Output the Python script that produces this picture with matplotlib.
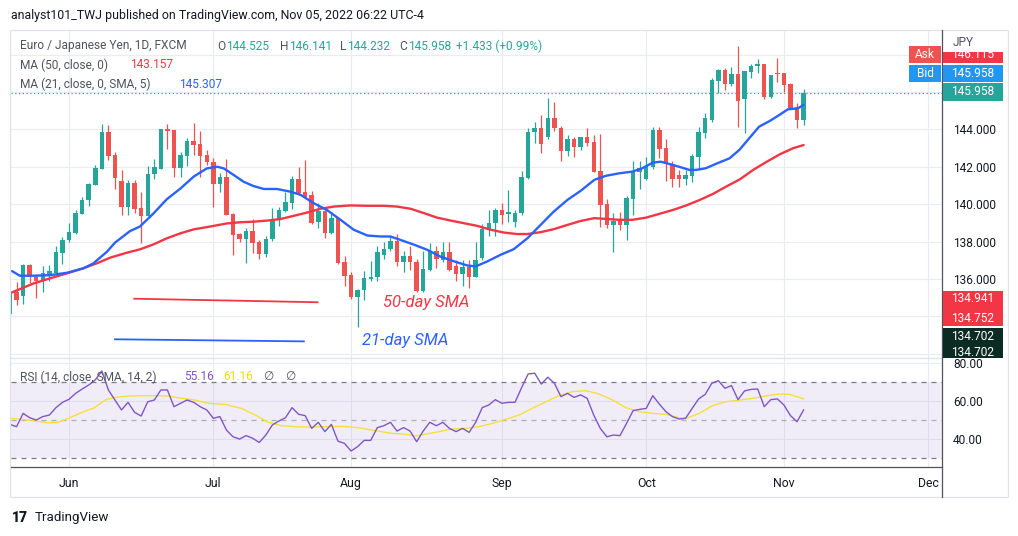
import numpy as np
import pandas as pd
import matplotlib
matplotlib.use("Agg")
import matplotlib.pyplot as plt
from matplotlib.patches import Rectangle
from matplotlib.lines import Line2D

plt.rcParams["font.family"] = ["Roboto", "DejaVu Sans"]

# ==== DATA ====
opens = [134.10, 135.28, 135.10, 136.76, 136.08, 135.87, 136.28, 136.31, 137.40, 138.06,
         138.45, 139.48, 140.20, 141.03, 141.90, 143.86, 142.63, 141.24, 139.87, 141.15,
         139.80, 139.37, 141.62, 141.90, 144.00, 143.96, 141.95, 142.60, 143.38, 143.20,
         142.63, 142.24, 141.06, 141.43, 139.45, 138.40, 138.12, 138.56, 137.99, 137.32,
         138.12, 139.19, 139.65, 140.08, 141.34, 140.63, 140.50, 139.06, 139.63, 138.44,
         139.28, 136.89, 136.22, 135.01, 135.40, 136.00, 136.08, 137.29, 137.60, 138.04,
         136.88, 137.24, 136.90, 135.37, 136.49, 137.50, 137.03, 137.43, 136.70, 136.28,
         136.63, 136.12, 137.14, 138.62, 138.97, 139.69, 139.47, 139.05, 139.50, 141.41,
         143.84, 144.05, 143.61, 144.59, 144.09, 142.86, 143.46, 143.07, 143.57, 143.30,
         141.77, 140.00, 138.86, 139.16, 138.89, 140.28, 141.74, 141.35, 142.01, 143.96,
         143.02, 142.15, 141.56, 141.35, 141.51, 142.54, 143.82, 144.50, 146.60, 147.17,
         146.42, 146.95, 145.62, 147.08, 147.38, 147.52, 145.71, 147.04, 146.99, 146.40,
         145.21, 144.525]
highs = [135.35, 135.83, 136.80, 136.80, 136.28, 136.70, 136.76, 137.74, 138.23, 138.98,
         139.70, 140.37, 141.15, 142.10, 144.28, 144.23, 142.80, 141.83, 141.30, 141.30,
         140.67, 142.04, 142.42, 144.02, 144.28, 143.96, 142.80, 143.52, 144.36, 143.93,
         142.90, 142.45, 141.65, 142.40, 139.50, 138.45, 138.74, 139.20, 138.08, 138.30,
         139.81, 139.83, 140.67, 141.50, 142.00, 142.36, 140.72, 140.04, 139.70, 139.54,
         139.28, 137.20, 136.35, 135.45, 136.44, 136.94, 137.74, 137.95, 138.32, 138.41,
         137.47, 137.74, 137.06, 137.47, 137.90, 137.74, 137.97, 137.97, 137.00, 137.00,
         136.99, 137.97, 138.93, 139.70, 139.78, 140.04, 140.76, 139.68, 141.79, 144.05,
         144.37, 144.77, 145.66, 145.48, 144.20, 143.70, 143.60, 143.61, 144.05, 143.70,
         143.75, 140.27, 139.52, 139.57, 140.44, 142.33, 142.33, 142.50, 144.10, 144.10,
         143.48, 142.33, 141.83, 141.83, 142.67, 144.14, 144.89, 146.72, 147.22, 147.26,
         147.35, 148.45, 147.11, 147.49, 147.74, 147.52, 146.90, 147.79, 146.99, 146.49,
         145.39, 146.141]
lows = [134.05, 134.62, 134.66, 135.78, 135.00, 135.28, 135.90, 136.30, 136.80, 138.00,
        138.40, 139.45, 139.90, 141.00, 141.90, 142.36, 140.80, 139.43, 139.40, 139.50,
        137.90, 139.37, 141.35, 141.86, 142.93, 141.47, 141.44, 142.06, 142.63, 141.47,
        142.10, 139.85, 140.67, 139.40, 137.30, 138.00, 136.87, 137.37, 137.05, 137.16,
        138.05, 138.83, 139.60, 139.74, 140.50, 140.40, 138.94, 138.74, 138.17, 138.40,
        136.80, 135.60, 134.95, 133.43, 134.85, 135.87, 135.87, 137.08, 137.50, 136.67,
        136.35, 136.50, 135.30, 135.30, 136.40, 136.60, 136.90, 136.44, 135.90, 135.60,
        135.50, 136.10, 137.00, 138.32, 138.30, 138.93, 139.02, 138.75, 139.40, 141.34,
        143.25, 142.71, 143.46, 143.90, 142.32, 142.59, 142.54, 142.90, 143.10, 141.70,
        138.75, 138.70, 137.43, 138.63, 138.09, 139.43, 140.81, 141.30, 141.90, 142.45,
        141.26, 140.94, 140.94, 141.03, 141.20, 141.83, 143.56, 144.41, 145.92, 146.10,
        146.31, 144.14, 143.79, 146.72, 147.02, 145.62, 145.65, 146.55, 146.01, 145.12,
        144.09, 144.232]
closes = [135.30, 134.89, 136.76, 136.08, 135.87, 136.31, 136.44, 137.43, 138.10, 138.50,
          139.55, 140.23, 141.08, 141.92, 143.86, 142.60, 141.38, 139.87, 141.15, 139.75,
          139.37, 141.62, 142.00, 144.00, 143.93, 141.95, 142.63, 143.38, 143.18, 142.60,
          142.24, 141.08, 141.43, 139.42, 138.35, 138.12, 138.56, 137.94, 137.32, 138.14,
          139.19, 139.69, 140.10, 141.34, 140.60, 140.40, 138.97, 139.63, 138.44, 139.28,
          136.87, 136.16, 135.01, 135.42, 136.05, 136.10, 137.43, 137.60, 138.04, 136.88,
          137.24, 136.88, 135.37, 136.54, 137.50, 137.06, 137.43, 136.49, 136.28, 136.63,
          136.12, 137.02, 138.67, 138.97, 139.70, 139.42, 139.56, 139.54, 141.43, 143.84,
          144.05, 143.20, 144.59, 144.09, 142.86, 143.46, 143.07, 143.57, 143.29, 141.73,
          139.95, 138.86, 139.11, 138.89, 140.35, 141.79, 141.95, 142.04, 143.96, 142.95,
          142.13, 141.35, 141.35, 141.56, 142.58, 143.88, 144.59, 146.63, 147.17, 146.42,
          146.95, 145.53, 147.11, 147.38, 147.52, 145.71, 146.90, 146.95, 146.37, 145.12,
          144.50, 145.958]

# moving averages, sampled along the curve (bar number, value)
ma21_bar = [0.3, 1.5, 3.6, 6.1, 8.7, 11.2, 12.7, 14.8, 16.0, 18.3, 19.8, 21.9, 23.9, 26.0,
            28.0, 30.0, 31.6, 32.6, 34.1, 35.6, 37.1, 38.7, 40.7, 42.7, 44.3, 46.3, 48.3,
            50.4, 52.4, 54.5, 56.5, 58.0, 59.5, 61.6, 63.6, 65.6, 67.7, 69.7, 71.0, 72.8,
            74.8, 76.8, 78.9, 80.9, 82.9, 85.0, 87.0, 89.1, 90.8, 92.9, 94.9, 96.4, 98.0,
            99.2, 100.5, 102.0, 103.6, 104.6, 106.1, 107.6, 109.7, 111.2, 112.7, 114.2,
            115.8, 117.3, 118.6, 120.1, 121.0]
ma21_val = [136.42, 136.17, 136.17, 136.20, 136.33, 136.57, 136.83, 137.46, 137.94, 138.56,
            138.80, 139.51, 140.26, 140.84, 141.47, 141.91, 142.00, 141.91, 141.56, 141.20,
            140.97, 140.81, 140.81, 140.67, 140.50, 140.05, 139.69, 139.16, 138.63, 138.32,
            138.27, 138.27, 138.09, 137.83, 137.56, 137.20, 136.94, 136.72, 136.67, 136.94,
            137.29, 137.59, 138.18, 138.89, 139.60, 140.23, 140.71, 141.30, 141.51, 141.65,
            141.74, 141.92, 142.22, 142.27, 142.15, 142.00, 141.83, 141.83, 141.92, 142.15,
            142.45, 142.90, 143.52, 144.14, 144.44, 144.77, 145.07, 145.12, 145.31]
ma50_bar = [0.3, 3.6, 6.1, 8.7, 11.2, 13.2, 15.3, 17.8, 19.8, 21.9, 23.9, 26.0, 28.0, 30.5,
            33.1, 35.1, 37.1, 39.2, 41.2, 43.2, 45.3, 47.3, 49.4, 51.9, 54.5, 57.0, 59.0,
            61.1, 63.1, 65.1, 67.2, 69.2, 71.2, 73.3, 75.3, 77.3, 78.9, 80.9, 82.9, 85.0,
            87.0, 89.1, 90.8, 92.9, 94.9, 97.0, 99.0, 101.1, 103.1, 105.2, 107.2, 109.2,
            111.3, 113.3, 115.4, 117.4, 119.4, 121.0]
ma50_val = [135.28, 135.76, 136.03, 136.30, 136.57, 136.83, 137.14, 137.40, 137.58, 137.85,
            138.17, 138.44, 138.65, 138.80, 138.97, 139.03, 139.06, 139.12, 139.20, 139.37,
            139.55, 139.75, 139.87, 139.93, 139.91, 139.91, 139.87, 139.75, 139.52, 139.28,
            139.12, 138.98, 138.84, 138.63, 138.48, 138.40, 138.40, 138.50, 138.66, 138.89,
            139.10, 139.25, 139.21, 139.16, 139.16, 139.28, 139.48, 139.69, 139.93, 140.23,
            140.55, 140.94, 141.33, 141.83, 142.27, 142.67, 142.99, 143.16]

rsi = [47.7, 46.5, 53.5, 51.2, 50.0, 51.8, 52.6, 56.5, 59.3, 60.9,
       64.0, 66.3, 68.4, 71.1, 75.8, 65.8, 60.5, 55.3, 59.3, 54.0,
       52.1, 59.6, 60.5, 65.8, 65.8, 57.0, 58.8, 60.5, 59.3, 57.0,
       55.3, 50.9, 51.8, 44.7, 41.2, 40.0, 41.8, 40.4, 38.2, 42.1,
       47.4, 49.5, 51.2, 56.5, 53.0, 52.3, 45.6, 48.8, 43.9, 47.7,
       38.9, 37.7, 33.7, 36.0, 39.3, 39.3, 46.0, 47.0, 48.8, 44.2,
       46.0, 44.2, 38.6, 44.2, 48.8, 47.0, 48.8, 45.6, 43.9, 45.6,
       43.5, 48.8, 56.5, 57.9, 60.7, 58.8, 59.3, 59.3, 67.0, 74.2,
       74.6, 68.9, 72.5, 69.3, 62.3, 64.0, 61.9, 63.2, 61.4, 52.6,
       45.6, 41.2, 42.1, 41.8, 48.2, 54.9, 55.6, 56.1, 62.8, 58.4,
       54.4, 51.8, 50.5, 50.9, 56.1, 61.1, 63.5, 69.3, 70.7, 66.7,
       68.1, 60.7, 65.3, 66.1, 66.3, 57.0, 60.7, 61.1, 57.9, 52.3,
       49.1, 55.3]
rsi_ma_bar = [0.2, 1.7, 3.8, 5.8, 7.3, 8.9, 10.9, 12.9, 14.5, 16.0, 18.0, 20.1, 22.6, 24.1,
              26.2, 28.2, 30.2, 32.8, 35.3, 37.4, 39.4, 41.4, 43.5, 45.5, 48.0, 50.6, 53.1,
              55.7, 58.2, 60.3, 61.8, 63.4, 65.4, 67.4, 69.5, 71.5, 73.5, 75.6, 77.6, 79.6,
              81.7, 83.7, 85.7, 87.8, 89.8, 91.9, 93.9, 95.9, 98.0, 100.0, 102.0, 103.1,
              105.1, 107.1, 109.1, 111.1, 113.2, 115.2, 117.3, 118.8, 121.0]
rsi_ma_val = [50.9, 50.4, 49.5, 48.6, 48.8, 50.9, 53.9, 56.5, 60.5, 61.9, 62.6, 62.8, 62.8,
              62.6, 61.4, 60.5, 58.8, 58.2, 56.1, 52.6, 48.8, 47.0, 46.5, 46.3, 46.5, 46.7,
              46.0, 44.4, 43.0, 42.5, 41.6, 42.6, 43.9, 45.3, 45.6, 46.5, 48.2, 50.4, 52.6,
              56.1, 59.6, 62.8, 64.9, 65.4, 63.7, 60.5, 56.5, 54.4, 53.5, 53.0, 51.2, 50.9,
              53.5, 57.5, 59.6, 60.4, 61.4, 62.6, 63.7, 63.5, 61.2]

# hand drawn trend lines (bar number, price)
red_line_bar = [18.95, 46.9]
red_line_val = [134.941, 134.752]
blue_line_bar = [16.0, 44.8]
blue_line_val = [132.77, 132.66]

dates = pd.bdate_range("2022-05-19", periods=len(closes))
axis_days = pd.bdate_range(dates[0], "2022-12-30")

# ==== STYLE ====
W, H = 1018, 536
UP, DOWN = "#26a69a", "#ef5350"
RED, BLUE = "#f23645", "#2962ff"
GRID = "#e9ecf2"
TXT = "#131722"
GRAY = "#50535e"
FS = 8.6


def fx(x):
    return x / W


def fy(y):
    return 1 - y / H


fig = plt.figure(figsize=(W / 100, H / 100), dpi=100)
fig.patch.set_facecolor("white")

x = np.arange(len(closes))
o, h, l, c = map(np.array, (opens, highs, lows, closes))
cols = np.where(c >= o, UP, DOWN)

month_pos = [i for i in range(1, len(axis_days)) if axis_days[i].month != axis_days[i - 1].month]
month_lbl = [axis_days[i].strftime("%b") for i in month_pos]

xlim = (0.15, 142.1)

#====MAIN PANEL======
ax = fig.add_axes([fx(11), fy(358), 931 / W, 327 / H])
ax.set_xlim(*xlim)
ax.set_ylim(131.77, 149.26)
for s in ax.spines.values():
    s.set_visible(False)
ax.set_yticks(np.arange(132, 150, 2))
ax.set_yticklabels([f"{v:.3f}" if 136 <= v <= 144 else "" for v in np.arange(132, 150, 2)])
ax.set_xticks(month_pos)
ax.tick_params(axis="x", length=0, labelbottom=False)
ax.tick_params(axis="y", length=0, left=False, labelleft=False, right=False, labelright=True,
               pad=8, labelsize=FS, labelcolor=TXT)
ax.grid(True, color=GRID, lw=0.8)
ax.set_axisbelow(True)

ax.vlines(x, l, h, colors=cols, lw=0.9, zorder=2)
ax.bar(x, np.maximum(np.abs(c - o), 0.04), bottom=np.minimum(o, c), width=0.68,
       color=cols, lw=0, zorder=3)

ax.plot(ma50_bar, ma50_val, color=RED, lw=1.7, zorder=4, solid_capstyle="round")
ax.plot(ma21_bar, ma21_val, color=BLUE, lw=1.7, zorder=4, solid_capstyle="round")
ax.plot(red_line_bar, red_line_val, color=RED, lw=1.3, zorder=4)
ax.plot(blue_line_bar, blue_line_val, color=BLUE, lw=1.3, zorder=4)
ax.axhline(closes[-1], color=UP, lw=0.9, ls=(0, (1, 2)), zorder=1)

#====RSI PANEL======
ar = fig.add_axes([fx(11), fy(467), 931 / W, 109 / H], sharex=ax)
ar.set_xlim(*xlim)
ar.set_ylim(25.3, 82.6)
for s in ar.spines.values():
    s.set_visible(False)
ar.set_yticks([40, 60, 80])
ar.set_yticklabels(["40.00", "60.00", "80.00"])
ar.set_xticks(month_pos)
ar.set_xticklabels(month_lbl)
ar.tick_params(axis="x", length=0, pad=7, labelsize=FS + 0.2, labelcolor=TXT)
ar.tick_params(axis="y", length=0, left=False, labelleft=False, right=False, labelright=True,
               pad=8, labelsize=FS, labelcolor=TXT)
ar.grid(True, color=GRID, lw=0.8)
ar.set_axisbelow(True)
ar.axhspan(30, 70, color="#7e57c2", alpha=0.1, lw=0)
ar.axhline(70, color="#787b86", lw=0.9, ls=(0, (4, 4)))
ar.axhline(30, color="#787b86", lw=0.9, ls=(0, (4, 4)))
ar.axhline(50, color="#787b86", lw=0.9, ls=(0, (4, 4)), alpha=0.55)
ar.plot(rsi_ma_bar, rsi_ma_val, color="#f5e03a", lw=1.0)
ar.plot(x, rsi, color="#7e57c2", lw=1.0)

#====FRAME======
fig.patches.append(Rectangle((fx(10), fy(497)), 998 / W, 467 / H, transform=fig.transFigure,
                             fill=False, ec="#e0e3eb", lw=0.9))
fig.lines.append(Line2D([fx(11), fx(942)], [fy(358), fy(358)], transform=fig.transFigure,
                        color="#e0e3eb", lw=0.9))
fig.lines.append(Line2D([fx(11), fx(942)], [fy(467), fy(467)], transform=fig.transFigure,
                        color=GRAY, lw=0.9))
fig.lines.append(Line2D([fx(942), fx(942)], [fy(30), fy(497)], transform=fig.transFigure,
                        color=GRAY, lw=0.9))


def tag(x0, x1, y0, y1, color, labels, z=10):
    # coloured price tag; labels = [(y, text), ...], clipped to the tag
    r = Rectangle((fx(x0), fy(y1)), (x1 - x0) / W, (y1 - y0) / H, transform=fig.transFigure,
                  color=color, lw=0, zorder=z)
    fig.patches.append(r)
    for ty, s in labels:
        t = fig.text(fx((x0 + x1) / 2), fy(ty), s, color="white", fontsize=FS,
                     ha="center", va="center", zorder=z + 1)
        t.set_clip_path(r)


tag(909, 941, 46, 63, "#ef5350", [(54.5, "Ask")])
tag(909, 941, 65, 82, "#2196f3", [(73.5, "Bid")])
tag(943, 1003, 52, 63, "#f23645", [(54, "146.115")])
tag(943, 1003, 65, 82, "#2196f3", [(73.5, "145.958")])
tag(943, 1003, 83, 101, UP, [(92, "145.958")])
tag(943, 1003, 291, 326, RED, [(299, "134.941"), (318, "134.752")])
tag(943, 1003, 328, 358, "#0c2b23", [(336, "134.702"), (353, "134.702")])
fig.text(fx(953), fy(43), "JPY", color=GRAY, fontsize=FS, va="center")

#====TEXTS======
fig.text(fx(11), fy(15), "analyst101_TWJ published on TradingView.com, Nov 05, 2022 06:22 UTC-4",
         fontsize=8.9, color=TXT, va="center")

legend_rows = [
    (46, [(20, "Euro / Japanese Yen, 1D, FXCM", GRAY), (217, "O", GRAY), (226, "144.525", UP),
          (280, "H", GRAY), (289, "146.141", UP), (340, "L", GRAY), (347, "144.232", UP),
          (399, "C", GRAY), (408, "145.958", UP), (456, "+1.433 (+0.99%)", UP)]),
    (65, [(20, "MA (50, close, 0)", GRAY), (130, "143.157", RED)]),
    (84, [(20, "MA (21, close, 0, SMA, 5)", GRAY), (179, "145.307", BLUE)]),
    (377, [(20, "RSI (14, close, SMA, 14, 2)", GRAY), (184, "55.16", "#7e57c2"),
           (223, "61.16", "#f5d90a"), (263, "\u2205", GRAY), (285, "\u2205", GRAY)]),
]
for yy, parts in legend_rows:
    for xx, s, col in parts:
        fig.text(fx(xx), fy(yy), s, fontsize=FS, color=col, va="center")

fig.text(fx(383), fy(302), "50-day SMA", fontsize=12, style="italic", color=RED, va="center")
fig.text(fx(362), fy(341), "21-day SMA", fontsize=12, style="italic", color=BLUE, va="center")

fig.text(fx(12), fy(518), "17", fontsize=10, fontweight="heavy", color=TXT, va="center")
fig.text(fx(35), fy(518), "TradingView", fontsize=9.6, color=TXT, va="center")

plt.savefig("out.png", dpi=100)
